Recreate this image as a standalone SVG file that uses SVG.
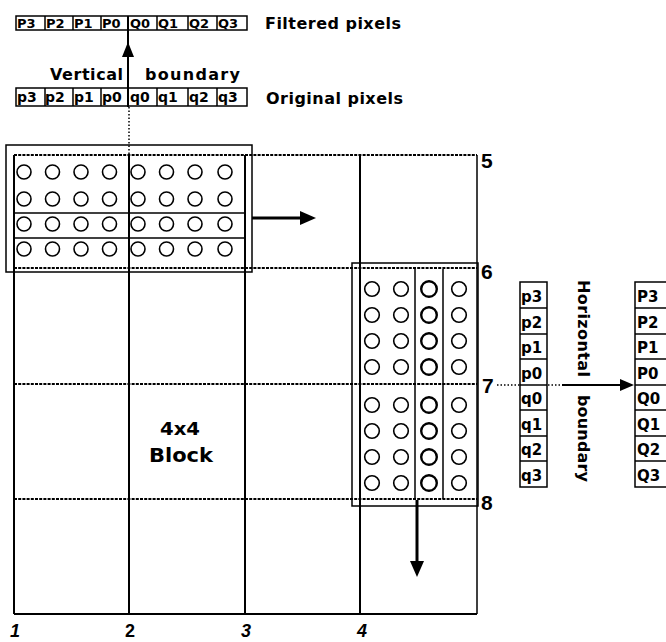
<svg xmlns="http://www.w3.org/2000/svg" width="666" height="642" viewBox="0 0 666 642">
<style>
text{font-family:"DejaVu Sans","Liberation Sans",Arial,sans-serif;font-weight:bold;fill:#000}
.lbl{font-size:16px}
.cell{font-size:13px}
.num{font-size:21px;font-family:"Liberation Sans",Arial,sans-serif}
.bnum{font-size:18px;font-family:"Liberation Sans",Arial,sans-serif}
.box{fill:none;stroke:#000;stroke-width:1.5}
.gh{stroke:#000;stroke-width:2;stroke-dasharray:3 1.2;fill:none}
.gv{stroke:#000;stroke-width:2;fill:none}
.c{fill:none;stroke:#000;stroke-width:1.6}
.cb{fill:none;stroke:#000;stroke-width:2.4}
.arr{stroke:#000;stroke-width:3;fill:none}
.thin{stroke:#000;stroke-width:1.5;fill:none}
.dot{stroke:#000;stroke-width:1.5;stroke-dasharray:1.5 2;fill:none}
</style>
<defs>
<g id="rowTL">
<circle class="c" cx="24" cy="0" r="7"/><circle class="c" cx="52.5" cy="0" r="7"/><circle class="c" cx="81" cy="0" r="7"/><circle class="c" cx="109.5" cy="0" r="7"/><circle class="c" cx="138" cy="0" r="7"/><circle class="c" cx="166.5" cy="0" r="7"/><circle class="c" cx="195" cy="0" r="7"/><circle class="c" cx="225" cy="0" r="7"/>
</g>
<g id="rowR">
<circle class="c" cx="372" cy="0" r="7.3"/><circle class="c" cx="401" cy="0" r="7.3"/><circle class="cb" cx="429" cy="0" r="7.8"/><circle class="c" cx="459" cy="0" r="7.3"/>
</g>
</defs>

<g id="grid">
<line class="gh" x1="14" y1="155" x2="477" y2="155"/>
<line class="gh" x1="14" y1="268" x2="477" y2="268"/>
<line class="gh" x1="14" y1="384" x2="477" y2="384"/>
<line class="gh" x1="14" y1="499" x2="477" y2="499"/>
<line class="gv" x1="14" y1="614" x2="477" y2="614"/>
<line class="gv" x1="14" y1="155" x2="14" y2="614"/>
<line class="gv" x1="129" y1="155" x2="129" y2="614"/>
<line class="gv" x1="245" y1="155" x2="245" y2="614"/>
<line class="gv" x1="360" y1="155" x2="360" y2="614"/>
<line class="thin" x1="477" y1="155" x2="477" y2="614"/>
<line class="dot" x1="497" y1="385" x2="520" y2="385"/>
</g>

<g id="grid-labels">
<text class="num" x="481" y="168">5</text>
<text class="num" x="481" y="279">6</text>
<text class="num" x="482" y="393">7</text>
<text class="num" x="481" y="510">8</text>
<text class="bnum" x="10" y="637" font-style="italic">1</text>
<text class="bnum" x="125" y="637">2</text>
<text class="bnum" x="241" y="637" font-style="italic">3</text>
<text class="bnum" x="357" y="637" font-style="italic">4</text>
</g>

<g id="block-label">
<text font-size="17" x="180" y="435" text-anchor="middle" textLength="40" lengthAdjust="spacingAndGlyphs">4x4</text>
<text font-size="19" x="181" y="462" text-anchor="middle" textLength="64" lengthAdjust="spacingAndGlyphs">Block</text>
</g>

<g id="filtered-top">
<rect class="box" x="16" y="16" width="231" height="14"/>
<g class="thin">
<line x1="45" y1="16" x2="45" y2="30"/><line x1="73" y1="16" x2="73" y2="30"/><line x1="101" y1="16" x2="101" y2="30"/><line x1="157" y1="16" x2="157" y2="30"/><line x1="188" y1="16" x2="188" y2="30"/><line x1="217" y1="16" x2="217" y2="30"/>
</g>
<g class="cell">
<text x="17" y="28">P3</text><text x="46" y="28">P2</text><text x="74" y="28">P1</text><text x="102" y="28">P0</text><text x="130" y="28">Q0</text><text x="158" y="28">Q1</text><text x="189" y="28">Q2</text><text x="218" y="28">Q3</text>
</g>
<text class="lbl" x="265" y="29" textLength="136" lengthAdjust="spacing">Filtered pixels</text>
</g>

<g id="original-top">
<rect class="box" x="16" y="88" width="231" height="18"/>
<g class="thin">
<line x1="45" y1="88" x2="45" y2="106"/><line x1="73" y1="88" x2="73" y2="106"/><line x1="101" y1="88" x2="101" y2="106"/><line x1="157" y1="88" x2="157" y2="106"/><line x1="188" y1="88" x2="188" y2="106"/><line x1="217" y1="88" x2="217" y2="106"/>
</g>
<g font-size="14">
<text x="17" y="102">p3</text><text x="45" y="102">p2</text><text x="74" y="102">p1</text><text x="102" y="102">p0</text><text x="130" y="102">q0</text><text x="158" y="102">q1</text><text x="189" y="102">q2</text><text x="218" y="102">q3</text>
</g>
<text class="lbl" x="266" y="104" textLength="137" lengthAdjust="spacing">Original pixels</text>
<text class="lbl" x="50" y="80" textLength="73" lengthAdjust="spacing">Vertical</text>
<text class="lbl" x="145" y="80" textLength="95" lengthAdjust="spacing">boundary</text>
</g>

<g id="block-top-left">
<rect class="thin" x="6" y="145" width="246" height="127"/>
<line class="thin" x1="15" y1="213" x2="245" y2="213"/>
<line class="thin" x1="15" y1="238" x2="245" y2="238"/>
<use href="#rowTL" y="172"/>
<use href="#rowTL" y="199"/>
<use href="#rowTL" y="224" style="stroke-width:2.4"/>
<use href="#rowTL" y="249"/>
</g>

<g id="block-right">
<rect class="thin" x="352" y="263" width="126" height="243"/>
<line class="thin" x1="415" y1="269" x2="415" y2="499"/>
<line class="thin" x1="443" y1="269" x2="443" y2="499"/>
<use href="#rowR" y="289"/>
<use href="#rowR" y="315"/>
<use href="#rowR" y="341"/>
<use href="#rowR" y="367"/>
<use href="#rowR" y="405"/>
<use href="#rowR" y="431"/>
<use href="#rowR" y="457"/>
<use href="#rowR" y="483"/>
</g>

<g id="original-right">
<rect class="box" x="520" y="282" width="27" height="205"/>
<g class="thin">
<line x1="520" y1="308" x2="547" y2="308"/><line x1="520" y1="334" x2="547" y2="334"/><line x1="520" y1="359" x2="547" y2="359"/><line x1="520" y1="385" x2="547" y2="385"/><line x1="520" y1="410" x2="547" y2="410"/><line x1="520" y1="436" x2="547" y2="436"/><line x1="520" y1="461" x2="547" y2="461"/>
</g>
<g font-size="15">
<text x="521" y="302">p3</text><text x="521" y="328">p2</text><text x="521" y="353">p1</text><text x="521" y="379">p0</text><text x="521" y="404">q0</text><text x="521" y="430">q1</text><text x="521" y="455">q2</text><text x="521" y="481">q3</text>
</g>
<text class="lbl" transform="translate(578,280) rotate(90)" x="0" y="0" textLength="97" lengthAdjust="spacing">Horizontal</text>
<text class="lbl" transform="translate(578,395) rotate(90)" x="0" y="0" textLength="87" lengthAdjust="spacing">boundary</text>
</g>

<g id="filtered-right">
<rect class="box" x="635" y="282" width="40" height="205"/>
<g class="thin">
<line x1="635" y1="308" x2="666" y2="308"/><line x1="635" y1="334" x2="666" y2="334"/><line x1="635" y1="359" x2="666" y2="359"/><line x1="635" y1="385" x2="666" y2="385"/><line x1="635" y1="410" x2="666" y2="410"/><line x1="635" y1="436" x2="666" y2="436"/><line x1="635" y1="461" x2="666" y2="461"/>
</g>
<g font-size="15">
<text x="637" y="302">P3</text><text x="637" y="328">P2</text><text x="637" y="353">P1</text><text x="637" y="379">P0</text><text x="637" y="404">Q0</text><text x="637" y="430">Q1</text><text x="637" y="455">Q2</text><text x="637" y="481">Q3</text>
</g>
</g>

<g id="connectors">
<line class="dot" x1="129" y1="107" x2="129" y2="155"/>
<line class="thin" x1="128" y1="107" x2="128" y2="16" style="stroke-width:2"/>
<polygon points="128,42 122,57 134,57" fill="#000"/>
<line class="arr" x1="252" y1="218" x2="302" y2="218"/>
<polygon points="316,218 300,211 300,225" fill="#000"/>
<line class="arr" x1="417" y1="500" x2="417" y2="563"/>
<polygon points="417,577 410,561 424,561" fill="#000"/>
<line class="dot" x1="548" y1="385" x2="562" y2="385"/>
<line class="thin" x1="562" y1="385" x2="622" y2="385" style="stroke-width:2"/>
<polygon points="634,385 620,379 620,391" fill="#000"/>
</g>
</svg>
